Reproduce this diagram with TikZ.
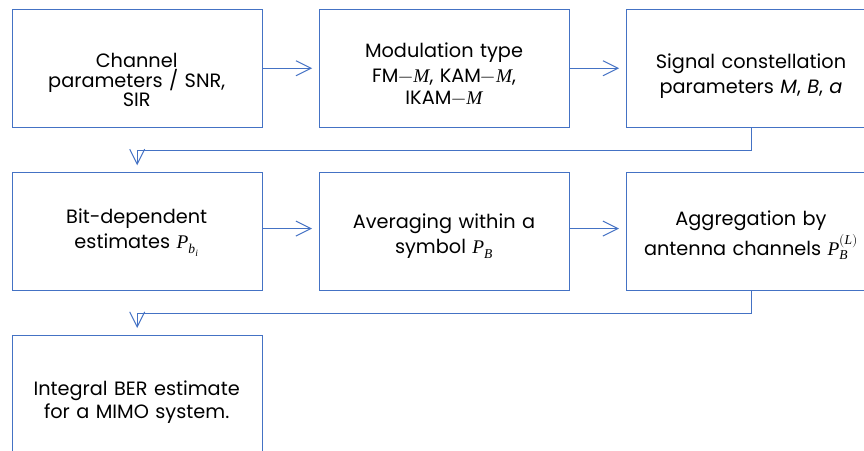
\documentclass[tikz,border=0pt]{standalone}
\usepackage{fontspec}
\usepackage{unicode-math}
\setmainfont{Poppins}
\setmathfont{Latin Modern Math}
\setmathfont[range=it/{Latin,latin}]{Liberation Serif Italic}
\usetikzlibrary{arrows.meta}
\definecolor{flowblue}{HTML}{4472C4}
\newcommand\boxfont{\fontsize{19.3}{18}\selectfont\lineskiplimit=-100pt\relax}
\begin{document}
\begin{tikzpicture}[x=1pt,y=-1pt,
  stepbox/.style={draw=flowblue, line width=1pt, minimum width=250pt,
    minimum height=117.5pt, inner sep=0pt, anchor=north west},
  steptext/.style={text width=250pt, align=center, anchor=base, inner sep=0pt,
    font=\boxfont},
  flow/.style={draw=flowblue, line width=1pt,
    -{Straight Barb[length=15pt,width=15pt]}, shorten >=7pt}]
\useasboundingbox (0,0) rectangle (864,450);
\begin{scope}
\clip (0,0) rectangle (864,450);
% boxes
\node[stepbox] (b1) at (11.7,9) {};
\node[stepbox] (b2) at (319,9) {};
\node[stepbox] (b3) at (626,9) {};
\node[stepbox] (b4) at (11.7,172.3) {};
\node[stepbox] (b5) at (319,172.3) {};
\node[stepbox] (b6) at (626,172.3) {};
\node[stepbox] (b7) at (11.7,335) {};
% texts, placed by the baseline of their first line
\node[steptext] (t1) at (136.7,67.7) {Channel\\[2pt]parameters / SNR,\\[0.3pt]SIR};
\node[steptext] (t2) at (444,57.7) {Modulation type\\[7pt]FM$-M$, KAM$-M$,\\[3.3pt]IKAM$-M$};
\node[steptext] (t3) at (751,68.3) {Signal constellation\\[7pt]parameters \textit{M}, \textit{B}, \textit{a}};
\node[steptext] (t4) at (136.7,223.3) {Bit-dependent\\[7pt]estimates $P_{b_i}$};
\node[steptext] (t5) at (444,228.3) {Averaging within a\\[7pt]symbol $P_B$};
\node[steptext] (t6) at (751,225.5) {Aggregation by\\[11.5pt]antenna channels $P_B^{(L)}$};
\node[steptext] (t7) at (136.7,395) {Integral BER estimate\\[5.3pt]for a MIMO system.};
% connectors
\draw[flow] (b1.east) -- (b2.west);
\draw[flow] (b2.east) -- (b3.west);
\draw[flow] (b3.south) -- ++(0,22.5) -| (b4.north);
\draw[flow] ([yshift=3pt]b4.east) -- ([yshift=3pt]b5.west);
\draw[flow] ([yshift=3pt]b5.east) -- ([yshift=3pt]b6.west);
\draw[flow] (b6.south) -- ++(0,22.5) -| (b7.north);
\end{scope}
\end{tikzpicture}
\end{document}
